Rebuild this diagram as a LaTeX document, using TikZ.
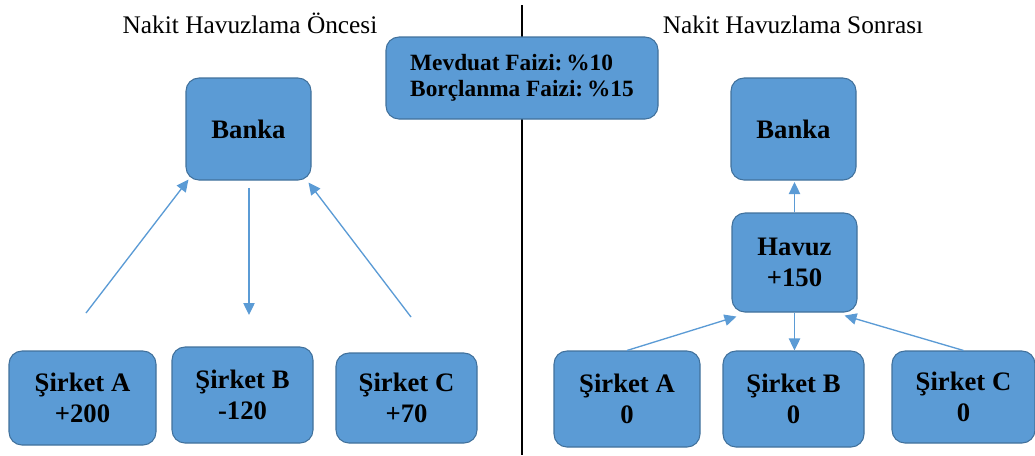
\documentclass[tikz,border=0pt]{standalone}
\usepackage{fontspec}
\setmainfont{Liberation Serif}
\usetikzlibrary{arrows.meta,calc}
\newdimen\upx \upx=0.75pt
\definecolor{boxfill}{HTML}{5B9BD5}
\definecolor{boxline}{HTML}{41719C}
\begin{document}
\begin{tikzpicture}[x=0.75pt,y=-0.75pt,
  box/.style={draw=boxline,fill=boxfill,line width=0.8pt,rounded corners=13\upx,
    font=\fontsize{20pt}{23pt}\selectfont\bfseries,align=center,inner sep=0pt},
  flow/.style={draw=boxfill,line width=1pt,-{Triangle[length=9pt,width=8.5pt]}},
  title/.style={font=\fontsize{19pt}{22pt}\selectfont,anchor=base}]
\useasboundingbox (0,0) rectangle (1035,455);

% divider between the two halves
\draw[line width=1.5pt] (521.5,5) coordinate (dtop) -- (521.5,455) coordinate (dbot);

% titles
\node[title] (t1) at (250,33) {Nakit Havuzlama Öncesi};
\node[title] (t2) at (793,33) {Nakit Havuzlama Sonrası};

% interest rates
\node[box,minimum width=272\upx,minimum height=82\upx,align=left,
  font=\fontsize{17.5pt}{19.5pt}\selectfont\bfseries] (faiz) at (522,78)
  {Mevduat Faizi:\,\%10\\Borçlanma Faizi:\,\%15};

% before pooling
\node[box,minimum width=125\upx,minimum height=102\upx] (bankL) at (248.5,129) {Banka};
\node[box,minimum width=147\upx,minimum height=94\upx] (aL) at (82.5,398) {Şirket A\\+200};
\node[box,minimum width=141\upx,minimum height=96\upx] (bL) at (242.5,395) {Şirket B\\-120};
\node[box,minimum width=141\upx,minimum height=90\upx] (cL) at (406.5,398) {Şirket C\\+70};

\coordinate (pA) at (86,313);
\coordinate (pB) at (249,315);
\coordinate (pC) at (411,317);
\draw[flow] (pA) -- ($(bankL.south west)+(3,-1)$);
\draw[flow,shorten <=5.5pt] (bankL.south -| pB) -- (pB);
\draw[flow] (pC) -- ($(bankL.south east)+(-3,2)$);

% after pooling
\node[box,minimum width=125\upx,minimum height=102\upx] (bankR) at (793.5,129) {Banka};
\node[box,minimum width=125\upx,minimum height=99\upx] (havuz) at (794.5,262.5) {Havuz\\+150};
\node[box,minimum width=146\upx,minimum height=96\upx] (aR) at (627,399) {Şirket A\\0};
\node[box,minimum width=141\upx,minimum height=96\upx] (bR) at (793.5,399) {Şirket B\\0};
\node[box,minimum width=143\upx,minimum height=92\upx] (cR) at (963.5,397) {Şirket C\\0};

\draw[flow] (havuz.north) -- ($(bankR.south -| havuz.north)+(0,1.5)$);
\draw[flow] (aR.north) -- ($(havuz.south west)+(5,4)$);
\draw[flow] (havuz.south) -- (havuz.south |- bR.north);
\draw[flow] (cR.north) -- ($(havuz.south east)+(-13,3)$);
\end{tikzpicture}
\end{document}
